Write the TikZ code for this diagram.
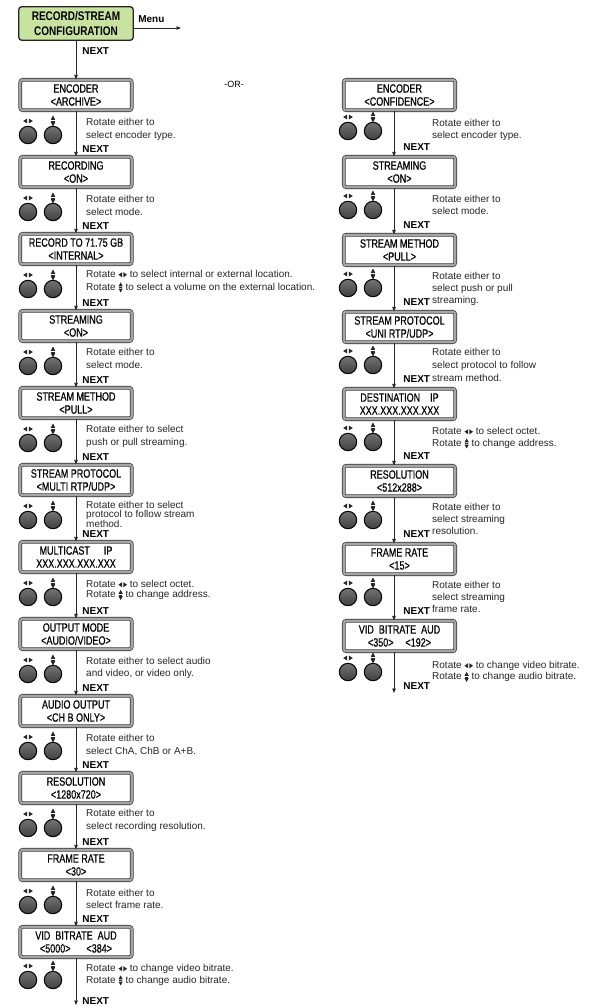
\documentclass[tikz,border=0pt]{standalone}
\usepackage{fontspec}
\setmainfont{Liberation Sans}
\newfontfamily\lcdfont[FakeStretch=0.75,FakeBold=0.5]{Liberation Sans}
\newfontfamily\titlefont[FakeStretch=0.8]{Liberation Sans}
\usepackage{tikz}
\usetikzlibrary{positioning,arrows.meta}
\usepackage{xcolor}
\definecolor{titlegreen}{RGB}{200,226,160}

\newcommand{\lrsym}{\tikz[x=1pt,y=1pt,baseline=-2.7pt]{\fill (0,0)--(3.6,2.5)--(3.6,-2.5)--cycle; \fill (8.6,0)--(5,2.5)--(5,-2.5)--cycle;}}
\newcommand{\udsym}{\tikz[x=1pt,y=1pt,baseline=-3pt]{\fill (0,5)--(-2.2,1.1)--(2.2,1.1)--cycle; \fill (0,-5)--(-2.2,-1.1)--(2.2,-1.1)--cycle; \draw[line width=0.5pt] (-1.8,0)--(1.8,0);}}

\tikzset{
  title/.style={draw=black!85,line width=1.3pt,fill=titlegreen,rounded corners=3pt,minimum width=114.5pt,minimum height=33.5pt,inner sep=0pt,align=center,font=\titlefont\bfseries\fontsize{12.5}{15}\selectfont},
  lcd/.style={draw=black!80,line width=0.7pt,double=black!35,double distance=2.2pt,rounded corners=2.5pt,fill=white,minimum width=111.5pt,minimum height=30.5pt,inner sep=0pt,align=center,font=\lcdfont\fontsize{12}{13}\selectfont},
  note/.style={anchor=north west,inner sep=0pt,align=left,text=black!85,font=\fontsize{10}{#1}\selectfont},
  note/.default=13,
  nextlbl/.style={anchor=base west,inner sep=0pt,font=\bfseries\fontsize{10}{11}\selectfont},
  nextline/.style={draw=black!85,line width=0.8pt,-{Triangle[length=4.5pt,width=3.5pt]}},
  knob/.style={draw=black,line width=1pt,top color=black!55,bottom color=black!75},
  knobpair/.pic={
    \draw[knob] (0,0) circle[radius=8.7pt];
    \draw[knob] (25,0) circle[radius=8.7pt];
    \fill[black!85] (-4.8,-14)--(-0.8,-16.5)--(-0.8,-11.5)--cycle;
    \fill[black!85] (4.8,-14)--(0.8,-16.5)--(0.8,-11.5)--cycle;
    \fill[black!85] (25,-19.5)--(22.8,-15.2)--(27.2,-15.2)--cycle;
    \fill[black!85] (25,-8.5)--(22.8,-12.8)--(27.2,-12.8)--cycle;
    \draw[black!85,line width=0.5pt] (23.2,-14)--(26.8,-14);
  }
}

\begin{document}
\begin{tikzpicture}[x=1pt,y=-1pt]
\useasboundingbox (0,0) rectangle (597,1007);

% top of the menu
\node[title] (title) at (76,23.5) {RECORD/STREAM\\CONFIGURATION};
\coordinate (menu) at (181,28);
\draw[nextline] (title.east |- menu) -- (menu) node[nextlbl,at start,xshift=4pt,yshift=5.5pt] {Menu};
\node[font=\fontsize{9}{10}\selectfont] (ortext) at (234,84) {-OR-};

% left column
\node[lcd] (l1) at (76,95) {ENCODER\\<ARCHIVE>};
\node[lcd] (l2) at (76,172) {RECORDING\\<ON>};
\node[lcd] (l3) at (76,249) {RECORD TO 71.75 GB\\<INTERNAL>};
\node[lcd] (l4) at (76,326) {STREAMING\\<ON>};
\node[lcd] (l5) at (76,403) {STREAM METHOD\\<PULL>};
\node[lcd] (l6) at (76,480) {STREAM PROTOCOL\\<MULTI RTP/UDP>};
\node[lcd] (l7) at (76,557) {MULTICAST\hspace{14pt}IP\\XXX.XXX.XXX.XXX};
\node[lcd] (l8) at (76,634) {OUTPUT MODE\\<AUDIO/VIDEO>};
\node[lcd] (l9) at (76,711) {AUDIO OUTPUT\\<CH B ONLY>};
\node[lcd] (l10) at (76,788) {RESOLUTION\\<1280x720>};
\node[lcd] (l11) at (76,865) {FRAME RATE\\<30>};
\node[lcd] (l12) at (76,942) {VID\ \ BITRATE\ \ AUD\\<5000>\hspace{16pt}<384>};
\coordinate (lend) at (76,1005);

\draw[nextline] (title.south) -- (l1.north) node[nextlbl,at start,xshift=6pt,yshift=-13.5pt] {NEXT};
\draw[nextline] (l1.south) -- (l2.north) node[nextlbl,at end,xshift=6pt,yshift=3.5pt] {NEXT};
\draw[nextline] (l2.south) -- (l3.north) node[nextlbl,at end,xshift=6pt,yshift=3.5pt] {NEXT};
\draw[nextline] (l3.south) -- (l4.north) node[nextlbl,at end,xshift=6pt,yshift=3.5pt] {NEXT};
\draw[nextline] (l4.south) -- (l5.north) node[nextlbl,at end,xshift=6pt,yshift=3.5pt] {NEXT};
\draw[nextline] (l5.south) -- (l6.north) node[nextlbl,at end,xshift=6pt,yshift=3.5pt] {NEXT};
\draw[nextline] (l6.south) -- (l7.north) node[nextlbl,at end,xshift=6pt,yshift=3.5pt] {NEXT};
\draw[nextline] (l7.south) -- (l8.north) node[nextlbl,at end,xshift=6pt,yshift=3.5pt] {NEXT};
\draw[nextline] (l8.south) -- (l9.north) node[nextlbl,at end,xshift=6pt,yshift=3.5pt] {NEXT};
\draw[nextline] (l9.south) -- (l10.north) node[nextlbl,at end,xshift=6pt,yshift=3.5pt] {NEXT};
\draw[nextline] (l10.south) -- (l11.north) node[nextlbl,at end,xshift=6pt,yshift=3.5pt] {NEXT};
\draw[nextline] (l11.south) -- (l12.north) node[nextlbl,at end,xshift=6pt,yshift=3.5pt] {NEXT};
\draw[nextline] (l12.south) -- (lend) node[nextlbl,at end,xshift=6pt,yshift=0.5pt] {NEXT};

\pic at (28,135) {knobpair};
\pic at (28,212) {knobpair};
\pic at (28,289) {knobpair};
\pic at (28,366) {knobpair};
\pic at (28,443) {knobpair};
\pic at (28,520) {knobpair};
\pic at (28,597) {knobpair};
\pic at (28,674) {knobpair};
\pic at (28,751) {knobpair};
\pic at (28,828) {knobpair};
\pic at (28,905) {knobpair};
\pic at (28,980) {knobpair};

\node[note] (n1) at (86,118) {Rotate either to\\select encoder type.};
\node[note] (n2) at (86,195) {Rotate either to\\select mode.};
\node[note] (n3) at (86,270) {Rotate \lrsym{} to select internal or external location.\\Rotate \udsym{} to select a volume on the external location.};
\node[note] (n4) at (86,348) {Rotate either to\\select mode.};
\node[note=13.5] (n5) at (86,425) {Rotate either to select\\push or pull streaming.};
\node[note=9.5] (n6) at (86,501) {Rotate either to select\\protocol to follow stream\\method.};
\node[note=10.5] (n7) at (86,580) {Rotate \lrsym{} to select octet.\\Rotate \udsym{} to change address.};
\node[note=12] (n8) at (86,657) {Rotate either to select audio\\and video, or video only.};
\node[note] (n9) at (86,734) {Rotate either to\\select ChA, ChB or A+B.};
\node[note] (n10) at (86,809) {Rotate either to\\select recording resolution.};
\node[note=12] (n11) at (86,889) {Rotate either to\\select frame rate.};
\node[note=12] (n12) at (86,964) {Rotate \lrsym{} to change video bitrate.\\Rotate \udsym{} to change audio bitrate.};

% right column
\node[lcd] (r1) at (399.5,95) {ENCODER\\<CONFIDENCE>};
\node[lcd] (r2) at (399.5,172) {STREAMING\\<ON>};
\node[lcd] (r3) at (399.5,250) {STREAM METHOD\\<PULL>};
\node[lcd] (r4) at (399.5,327) {STREAM PROTOCOL\\<UNI RTP/UDP>};
\node[lcd] (r5) at (399.5,404) {DESTINATION\hspace{10pt}IP\\XXX.XXX.XXX.XXX};
\node[lcd] (r6) at (399.5,481) {RESOLUTION\\<512x288>};
\node[lcd] (r7) at (399.5,559) {FRAME RATE\\<15>};
\node[lcd] (r8) at (399.5,636) {VID\ \ BITRATE\ \ AUD\\<350>\hspace{12pt}<192>};
\coordinate (rend) at (394,693);

\draw[nextline] ([xshift=-5.5pt]r1.south) -- ([xshift=-5.5pt]r2.north) node[nextlbl,at end,xshift=9pt,yshift=5.5pt] {NEXT};
\draw[nextline] ([xshift=-5.5pt]r2.south) -- ([xshift=-5.5pt]r3.north) node[nextlbl,at end,xshift=9pt,yshift=5.5pt] {NEXT};
\draw[nextline] ([xshift=-5.5pt]r3.south) -- ([xshift=-5.5pt]r4.north) node[nextlbl,at end,xshift=9pt,yshift=5.5pt] {NEXT};
\draw[nextline] ([xshift=-5.5pt]r4.south) -- ([xshift=-5.5pt]r5.north) node[nextlbl,at end,xshift=9pt,yshift=5.5pt] {NEXT};
\draw[nextline] ([xshift=-5.5pt]r5.south) -- ([xshift=-5.5pt]r6.north) node[nextlbl,at end,xshift=9pt,yshift=5.5pt] {NEXT};
\draw[nextline] ([xshift=-5.5pt]r6.south) -- ([xshift=-5.5pt]r7.north) node[nextlbl,at end,xshift=9pt,yshift=5.5pt] {NEXT};
\draw[nextline] ([xshift=-5.5pt]r7.south) -- ([xshift=-5.5pt]r8.north) node[nextlbl,at end,xshift=9pt,yshift=5.5pt] {NEXT};
\draw[nextline] ([xshift=-5.5pt]r8.south) -- (rend) node[nextlbl,at end,xshift=9pt,yshift=3.5pt] {NEXT};

\pic at (348,131) {knobpair};
\pic at (348,210) {knobpair};
\pic at (348,288) {knobpair};
\pic at (348,365) {knobpair};
\pic at (348,442) {knobpair};
\pic at (348,520) {knobpair};
\pic at (348,597) {knobpair};
\pic at (348,672) {knobpair};

\node[note=12] (m1) at (432,119) {Rotate either to\\select encoder type.};
\node[note=12] (m2) at (432,195) {Rotate either to\\select mode.};
\node[note=12] (m3) at (432,272) {Rotate either to\\select push or pull\\streaming.};
\node[note] (m4) at (432,348) {Rotate either to\\select protocol to follow\\stream method.};
\node[note=12] (m5) at (432,427) {Rotate \lrsym{} to select octet.\\Rotate \udsym{} to change address.};
\node[note=12] (m6) at (432,503) {Rotate either to\\select streaming\\resolution.};
\node[note=12] (m7) at (432,581) {Rotate either to\\select streaming\\frame rate.};
\node[note=11.5] (m8) at (432,661) {Rotate \lrsym{} to change video bitrate.\\Rotate \udsym{} to change audio bitrate.};
\end{tikzpicture}
\end{document}
